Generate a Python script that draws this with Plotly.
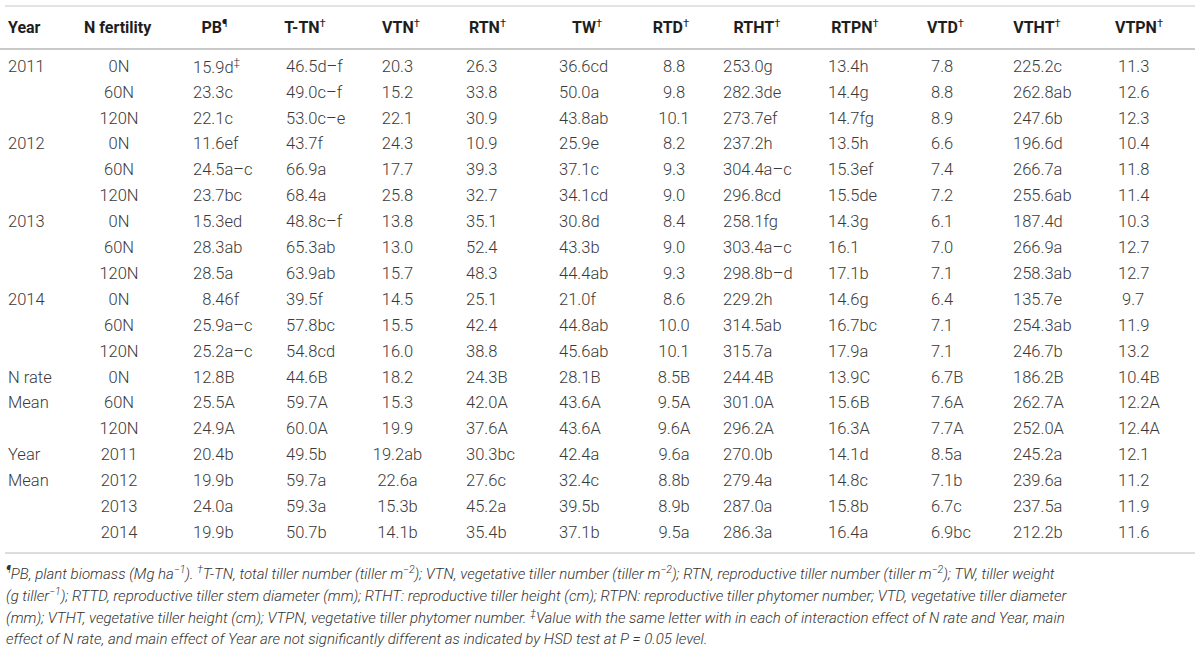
import plotly.graph_objects as go

W, H = 1200, 650

# ---------------- data ----------------
headers = ["<b>Year</b><sup>\u00a0</sup>", "<b>N\u00a0fertility</b><sup>\u00a0</sup>",
           "<b>PB</b><sup>¶</sup>", "<b>T-TN</b><sup>†</sup>", "<b>VTN</b><sup>†</sup>",
           "<b>RTN</b><sup>†</sup>", "<b>TW</b><sup>†</sup>", "<b>RTD</b><sup>†</sup>",
           "<b>RTHT</b><sup>†</sup>", "<b>RTPN</b><sup>†</sup>", "<b>VTD</b><sup>†</sup>",
           "<b>VTHT</b><sup>†</sup>", "<b>VTPN</b><sup>†</sup>"]

year_labels = ["2011", "", "", "2012", "", "", "2013", "", "", "2014", "", "",
               "N rate", "Mean", "", "Year", "Mean", "", ""]
n_fertility = ["0N", "60N", "120N", "0N", "60N", "120N", "0N", "60N", "120N",
               "0N", "60N", "120N", "0N", "60N", "120N", "2011", "2012", "2013", "2014"]
pb = ["15.9d<sup>‡</sup>", "23.3c", "22.1c", "11.6ef", "24.5a–c", "23.7bc", "15.3ed",
      "28.3ab", "28.5a", "\u20078.46f", "25.9a–c", "25.2a–c", "12.8B", "25.5A",
      "24.9A", "20.4b", "19.9b", "24.0a", "19.9b"]
t_tn = ["46.5d–f", "49.0c–f", "53.0c–e", "43.7f", "66.9a", "68.4a", "48.8c–f", "65.3ab",
        "63.9ab", "39.5f", "57.8bc", "54.8cd", "44.6B", "59.7A", "60.0A", "49.5b",
        "59.7a", "59.3a", "50.7b"]
vtn = ["20.3", "15.2", "22.1", "24.3", "17.7", "25.8", "13.8", "13.0", "15.7", "14.5",
       "15.5", "16.0", "18.2", "15.3", "19.9", "19.2ab", "22.6a", "15.3b", "14.1b"]
rtn = ["26.3", "33.8", "30.9", "10.9", "39.3", "32.7", "35.1", "52.4", "48.3", "25.1",
       "42.4", "38.8", "24.3B", "42.0A", "37.6A", "30.3bc", "27.6c", "45.2a", "35.4b"]
tw = ["36.6cd", "50.0a", "43.8ab", "25.9e", "37.1c", "34.1cd", "30.8d", "43.3b", "44.4ab",
      "21.0f", "44.8ab", "45.6ab", "28.1B", "43.6A", "43.6A", "42.4a", "32.4c", "39.5b",
      "37.1b"]
rtd = ["8.8", "9.8", "10.1", "8.2", "9.3", "9.0", "8.4", "9.0", "9.3", "8.6", "10.0",
       "10.1", "8.5B", "9.5A", "9.6A", "9.6a", "8.8b", "8.9b", "9.5a"]
rtht = ["253.0g", "282.3de", "273.7ef", "237.2h", "304.4a–c", "296.8cd", "258.1fg",
        "303.4a–c", "298.8b–d", "229.2h", "314.5ab", "315.7a", "244.4B", "301.0A",
        "296.2A", "270.0b", "279.4a", "287.0a", "286.3a"]
rtpn = ["13.4h", "14.4g", "14.7fg", "13.5h", "15.3ef", "15.5de", "14.3g", "16.1", "17.1b",
        "14.6g", "16.7bc", "17.9a", "13.9C", "15.6B", "16.3A", "14.1d", "14.8c", "15.8b",
        "16.4a"]
vtd = ["7.8", "8.8", "8.9", "6.6", "7.4", "7.2", "6.1", "7.0", "7.1", "6.4", "7.1", "7.1",
       "6.7B", "7.6A", "7.7A", "8.5a", "7.1b", "6.7c", "6.9bc"]
vtht = ["225.2c", "262.8ab", "247.6b", "196.6d", "266.7a", "255.6ab", "187.4d", "266.9a",
        "258.3ab", "135.7e", "254.3ab", "246.7b", "186.2B", "262.7A", "252.0A", "245.2a",
        "239.6a", "237.5a", "212.2b"]
vtpn = ["11.3", "12.6", "12.3", "10.4", "11.8", "11.4", "10.3", "12.7", "12.7", "\u00a09.7",
        "11.9", "13.2", "10.4B", "12.2A", "12.4A", "12.1", "11.2", "11.9", "11.6"]

footnote_lines = [
    "<i><sup>¶</sup>PB, plant biomass (Mg ha<sup>−1</sup>). <sup>†</sup>T-TN, total tiller number (tiller m<sup>−2</sup>); "
    "VTN, vegetative tiller number (tiller m<sup>−2</sup>); RTN, reproductive tiller number (tiller m<sup>−2</sup>); TW, tiller weight</i>",
    "<i>(g tiller<sup>−1</sup>); RTTD, reproductive tiller stem diameter (mm); RTHT: reproductive tiller height (cm); "
    "RTPN: reproductive tiller phytomer number; VTD, vegetative tiller diameter</i>",
    "<i>(mm); VTHT, vegetative tiller height (cm); VTPN, vegetative tiller phytomer number. <sup>‡</sup>Value with the same "
    "letter with in each of interaction effect of N rate and Year, main</i>",
    "<i>effect of N rate, and main effect of Year are not significantly different as indicated by HSD test at P = 0.05 level.</i>",
]

columns = [year_labels, n_fertility, pb, t_tn, vtn, rtn, tw, rtd, rtht, rtpn, vtd, vtht, vtpn]

# ---------------- layout (pixels) ----------------
# header: (align, left px, right px) -- contiguous so the rule under them is unbroken
head_specs = [("left", 0, 80), ("center", 69, 169), ("center", 165, 265),
              ("center", 255, 355), ("center", 351, 451), ("center", 438, 538),
              ("center", 537, 637), ("center", 621, 721), ("center", 707, 807),
              ("center", 805, 905), ("center", 896, 996), ("center", 987, 1087),
              ("center", 1083, 1195)]
# body: (align, left px, right px)
body_specs = [("left", 0, 80), ("center", 69, 169), ("left", 185, 270),
              ("left", 278, 370), ("center", 358, 438), ("left", 458, 550),
              ("left", 551, 640), ("center", 642, 706), ("left", 715, 810),
              ("left", 820, 915), ("left", 923, 1000), ("left", 1005, 1105),
              ("left", 1110, 1200)]
# outer rules: (centre y px, colour, thickness px)
outer_rules = [(6, "#dadada", 1.5), (553, "#d2d2d2", 1.5)]
HEAD_RULE_COLOR = "#c9c9c9"
HEAD_RULE_TH = 1.5

CLEAR = "rgba(0,0,0,0)"
FONT = "Roboto"
TXT = "#3a3a3a"
FS = 16.5
HFS = 16

HEAD_TOP = 8.5     # top of the header band
HEAD_H = 39.5      # header band height; the header rule sits right below it
ROWS_TOP = 51.4    # top of the first body row
ROW_H = 25.9       # body row height
SUP_SHIFT = 4      # lift for a body cell containing a superscript
BOTTOM = 590


def py(px):
    return 1 - px / H


head_font = dict(family=FONT, size=HFS, color="#1e1e1e")
cell_font = dict(family=FONT, size=FS, color=TXT, weight=300)
blank = dict(fill_color=CLEAR, line_color=CLEAR)

fig = go.Figure()

# header row; its single thin cell row is filled grey and forms the rule under the headers
for h, (al, x0, x1) in zip(headers, head_specs):
    fig.add_trace(go.Table(
        header=dict(values=[h], align=al, height=HEAD_H, font=head_font, **blank),
        cells=dict(values=[[""]], height=HEAD_RULE_TH, fill_color=HEAD_RULE_COLOR,
                   line_color=CLEAR),
        domain=dict(x=[x0 / W, x1 / W], y=[py(BOTTOM), py(HEAD_TOP)]),
    ))

# body columns
for col, (al, x0, x1) in zip(columns, body_specs):
    body = col
    if "<sup>" in col[0]:
        # a cell with a superscript gets its own layer so the rows stay even
        fig.add_trace(go.Table(
            header=dict(values=[""], height=1, **blank),
            cells=dict(values=[[col[0]]], align=al, height=ROW_H, font=cell_font, **blank),
            domain=dict(x=[x0 / W, x1 / W], y=[py(BOTTOM), py(ROWS_TOP - 1 - SUP_SHIFT)]),
        ))
        body = [""] + col[1:]
    fig.add_trace(go.Table(
        header=dict(values=[""], height=1, **blank),
        cells=dict(values=[body], align=al, height=ROW_H, font=cell_font, **blank),
        domain=dict(x=[x0 / W, x1 / W], y=[py(BOTTOM), py(ROWS_TOP - 1)]),
    ))

# top and bottom rules
for yy, colr, th in outer_rules:
    fig.add_shape(type="line", xref="paper", yref="paper", x0=5 / W, x1=1195 / W,
                  y0=py(yy), y1=py(yy), layer="above", line=dict(color=colr, width=th))

# footnote
for i, line in enumerate(footnote_lines):
    fig.add_annotation(text=line, xref="paper", yref="paper", x=4 / W, y=py(573 + 22 * i),
                       xanchor="left", yanchor="middle", showarrow=False, align="left",
                       font=dict(family=FONT, size=15, color="#333333", weight=300))

fig.update_layout(width=W, height=H, margin=dict(l=0, r=0, t=0, b=0),
                  paper_bgcolor="white", plot_bgcolor="white")

fig.write_html("out.html", config={"displayModeBar": False},
               post_script="document.body.style.margin='0';")
